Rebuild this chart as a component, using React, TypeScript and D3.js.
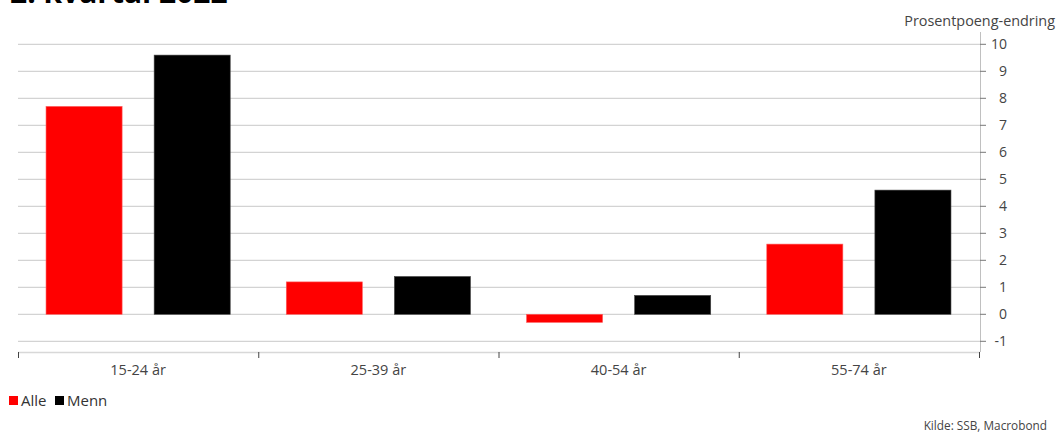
import React from "react";
import * as d3 from "d3";

const categories = ["15-24 år", "25-39 år", "40-54 år", "55-74 år"];
const seriesNames = ["Alle", "Menn"];
const alleValues = [7.7, 1.2, -0.3, 2.6];
const mennValues = [9.6, 1.4, 0.7, 4.6];
const yTicks = [-1, 0, 1, 2, 3, 4, 5, 6, 7, 8, 9, 10];
const seriesColors = ["#ff0000", "#000000"];

const W = 1059;
const H = 432;
const FONT = "'Open Sans', 'Noto Sans', sans-serif";

export default function App() {
  const x0 = d3.scaleBand<string>().domain(categories).range([18, 979]).paddingInner(0).paddingOuter(0);
  const bw = x0.bandwidth();
  const x1 = d3
    .scaleBand<string>()
    .domain(seriesNames)
    .range([0, bw])
    .paddingInner(32 / 108)
    .paddingOuter(28 / 108);
  const y = d3.scaleLinear().domain([-1, 10]).range([341.3, 44.3]);

  const series = [alleValues, mennValues];
  const plotRight = 980;

  return (
    <svg
      width={W}
      height={H}
      style={{ position: "absolute", left: 0, top: 0, background: "#fff" }}
      fontFamily={FONT}
    >
      {/* title, mostly above the visible area */}
      <text x={10} y={3} fontSize={30} fontWeight={700} fill="#000">
        2. kvartal 2022
      </text>

      {/* gridlines */}
      {yTicks.map((t) => (
        <line key={t} x1={18} x2={plotRight} y1={y(t)} y2={y(t)} stroke="#c8c8c8" strokeWidth={1} />
      ))}

      {/* bars */}
      {categories.map((c, i) =>
        series.map((vals, s) => {
          const v = vals[i];
          const xx = (x0(c) as number) + (x1(seriesNames[s]) as number);
          const top = y(Math.max(0, v));
          const bot = y(Math.min(0, v));
          return (
            <rect
              key={c + s}
              x={xx}
              y={top}
              width={x1.bandwidth()}
              height={bot - top}
              fill={seriesColors[s]}
              stroke={s === 0 ? "#ff6060" : "#444"}
              strokeWidth={0.6}
            />
          );
        })
      )}

      {/* y axis on the right */}
      <line x1={plotRight + 0.5} x2={plotRight + 0.5} y1={32} y2={352} stroke="#c0c0c0" strokeWidth={1} />
      {yTicks.map((t) => (
        <g key={"yt" + t}>
          <line x1={plotRight} x2={plotRight + 6} y1={y(t)} y2={y(t)} stroke="#777" strokeWidth={1} />
          <text x={1007} y={y(t)} dy="0.35em" textAnchor="end" fontSize={14} fill="#444">
            {t}
          </text>
        </g>
      ))}
      <text x={1055} y={26} textAnchor="end" fontSize={14.4} fill="#444">
        Prosentpoeng-endring
      </text>

      {/* x axis */}
      <line x1={18} x2={plotRight} y1={352.5} y2={352.5} stroke="#d8d8d8" strokeWidth={1.5} />
      {[...categories.map((c) => x0(c) as number), 979].map((xv, i) => (
        <line key={"xt" + i} x1={xv + 0.5} x2={xv + 0.5} y1={352} y2={358} stroke="#444" strokeWidth={1} />
      ))}
      {categories.map((c) => (
        <text
          key={"xl" + c}
          x={(x0(c) as number) + bw / 2}
          y={375}
          textAnchor="middle"
          fontSize={14.5}
          fill="#444"
        >
          {c}
        </text>
      ))}

      {/* legend */}
      <rect x={9} y={396} width={9} height={9} fill={seriesColors[0]} />
      <text x={21} y={405.5} fontSize={15} fill="#333">
        {seriesNames[0]}
      </text>
      <rect x={55} y={396} width={9} height={9} fill={seriesColors[1]} />
      <text x={67} y={405.5} fontSize={15} fill="#333">
        {seriesNames[1]}
      </text>

      {/* source */}
      <text x={1047} y={430} textAnchor="end" fontSize={11.8} fill="#444">
        Kilde: SSB, Macrobond
      </text>
    </svg>
  );
}
